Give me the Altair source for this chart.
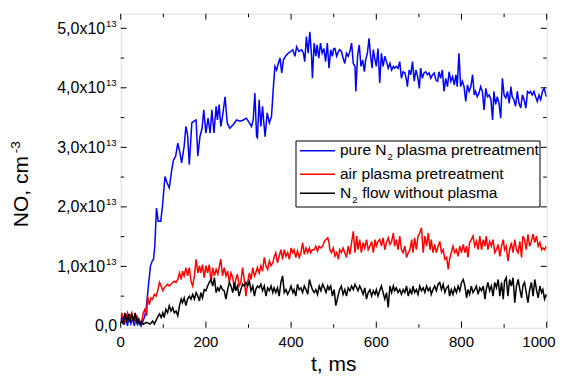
import altair as alt
import pandas as pd

# ---------------- data (NO density in units of 1e13 cm^-3, time in ms) ----------------
blue_t = [0, 4, 8, 12, 16, 20, 24, 28, 32, 36,
          40, 44, 48, 52, 56, 60, 65, 70, 74, 77,
          80, 84, 88, 94, 98, 104, 109, 114, 120, 124,
          129, 134, 139, 143, 149, 153, 157, 161, 167, 172,
          177, 181, 186, 191, 195, 200, 205, 210, 214, 219,
          224, 227, 231, 235, 239, 245, 250, 256, 264, 272,
          280, 288, 295, 302, 307, 311, 315, 319, 321, 325,
          329, 333, 336, 339, 344, 349, 354, 358, 362, 366,
          370, 374, 378, 382, 387, 393, 399, 404, 409, 413,
          418, 425, 429, 432, 436, 440, 444, 448, 450, 454,
          458, 461, 465, 469, 473, 477, 481, 485, 489, 493,
          497, 500, 503, 507, 511, 514, 518, 522, 526, 530,
          534, 538, 542, 546, 550, 552, 556, 560, 564, 568,
          572, 575, 579, 583, 586, 590, 593, 597, 600, 604,
          608, 612, 616, 620, 624, 628, 632, 636, 640, 643,
          647, 651, 655, 659, 663, 667, 671, 673, 677, 681,
          685, 689, 693, 697, 701, 704, 708, 712, 716, 720,
          724, 728, 732, 736, 740, 744, 747, 751, 755, 759,
          763, 767, 771, 775, 779, 783, 787, 790, 794, 798,
          802, 806, 810, 814, 818, 822, 826, 830, 833, 837,
          841, 845, 849, 853, 857, 861, 865, 869, 873, 876,
          880, 884, 888, 892, 896, 900, 904, 908, 912, 916,
          919, 923, 927, 931, 935, 939, 943, 947, 951, 955,
          959, 962, 966, 970, 974, 978, 982, 986, 990, 994,
          998, 1000]
blue_v = [0.05, 0.18, 0.02, 0.15, 0.00, 0.20, 0.04, 0.12, 0.00, 0.17,
          0.03, 0.10, 0.00, 0.08, 0.15, 0.30, 0.67, 1.01, 1.09, 1.12,
          1.34, 1.98, 1.76, 1.76, 2.01, 2.51, 2.40, 2.32, 2.63, 2.79,
          2.85, 3.07, 2.91, 2.74, 3.02, 3.35, 3.21, 2.71, 3.41, 3.44,
          3.46, 2.85, 3.18, 3.32, 3.63, 3.24, 3.49, 3.24, 3.63, 3.24,
          3.69, 3.46, 3.72, 3.35, 3.52, 3.85, 3.41, 3.32, 3.38, 3.46,
          3.44, 3.46, 3.49, 3.41, 3.35, 3.46, 3.91, 3.18, 3.16, 3.80,
          3.35, 3.69, 3.41, 3.18, 3.58, 3.41, 3.52, 3.97, 4.36, 4.30,
          4.41, 4.50, 4.25, 4.47, 4.53, 4.58, 4.61, 4.64, 4.53, 4.69,
          4.61, 4.64, 4.58, 4.44, 4.86, 4.58, 4.94, 4.53, 4.16, 4.75,
          4.53, 4.72, 4.50, 4.75, 4.58, 4.66, 4.44, 4.75, 4.33, 4.64,
          4.53, 4.66, 4.66, 4.53, 4.61, 4.64, 4.61, 4.50, 4.41, 4.58,
          4.53, 4.61, 4.75, 4.41, 4.36, 3.94, 4.53, 4.72, 4.36, 4.47,
          4.27, 4.47, 4.58, 4.83, 4.58, 4.33, 4.64, 4.47, 4.36, 4.66,
          4.08, 4.58, 4.36, 4.53, 4.44, 4.33, 4.41, 4.30, 4.36, 4.33,
          4.36, 4.33, 4.44, 4.16, 4.27, 4.25, 4.13, 4.02, 4.30, 4.22,
          4.44, 4.11, 4.30, 4.19, 3.99, 4.33, 4.16, 4.25, 4.27, 4.22,
          4.25, 4.16, 4.22, 4.25, 4.13, 4.11, 4.27, 4.16, 4.30, 3.94,
          4.16, 4.02, 4.27, 4.11, 4.19, 4.05, 4.22, 4.02, 4.58, 4.02,
          4.11, 4.02, 3.77, 4.05, 3.94, 4.02, 4.22, 3.88, 3.94, 3.85,
          3.91, 4.02, 3.94, 3.63, 3.99, 3.85, 3.88, 3.80, 3.46, 3.94,
          3.72, 3.85, 3.74, 3.49, 4.16, 3.88, 3.83, 3.94, 3.74, 4.02,
          3.85, 3.80, 3.69, 3.94, 3.74, 3.66, 3.88, 3.80, 3.66, 3.94,
          3.91, 3.94, 3.88, 3.94, 3.85, 3.77, 3.88, 3.80, 3.94, 3.99,
          3.88, 3.85]

red_t = [0, 2, 6, 10, 16, 20, 26, 31, 38, 44,
         49, 53, 57, 61, 63, 67, 71, 75, 79, 83,
         87, 91, 95, 99, 102, 106, 110, 114, 118, 122,
         126, 130, 134, 138, 142, 145, 149, 153, 157, 161,
         165, 169, 173, 177, 181, 185, 188, 192, 196, 200,
         204, 208, 212, 216, 220, 224, 228, 231, 235, 239,
         243, 247, 251, 255, 259, 263, 267, 270, 274, 278,
         282, 286, 290, 294, 298, 302, 306, 310, 314, 317,
         321, 325, 329, 333, 337, 341, 345, 349, 353, 357,
         360, 364, 368, 372, 376, 380, 384, 388, 392, 396,
         400, 404, 407, 411, 415, 419, 423, 427, 431, 435,
         439, 443, 446, 450, 454, 458, 462, 466, 470, 474,
         478, 482, 486, 489, 491, 495, 499, 503, 507, 511,
         514, 518, 522, 526, 530, 534, 538, 542, 546, 550,
         554, 557, 561, 565, 569, 573, 577, 581, 585, 589,
         593, 597, 600, 604, 608, 612, 616, 620, 624, 628,
         632, 636, 640, 643, 647, 651, 655, 659, 663, 667,
         671, 675, 679, 683, 686, 690, 694, 698, 702, 706,
         710, 714, 718, 722, 726, 729, 733, 737, 741, 745,
         749, 753, 757, 761, 765, 769, 772, 776, 780, 784,
         788, 792, 796, 800, 804, 808, 812, 815, 819, 823,
         827, 831, 835, 839, 843, 847, 851, 855, 858, 862,
         866, 870, 874, 878, 882, 886, 890, 894, 898, 901,
         905, 909, 913, 917, 921, 925, 929, 933, 937, 941,
         944, 948, 952, 956, 960, 964, 968, 972, 976, 980,
         984, 988, 991, 995, 999]
red_v = [0.10, 0.22, 0.14, 0.06, 0.22, 0.11, 0.22, 0.08, 0.17, 0.08,
         0.06, 0.22, 0.28, 0.17, 0.50, 0.36, 0.47, 0.45, 0.53, 0.50,
         0.59, 0.73, 0.67, 0.59, 0.64, 0.67, 0.70, 0.67, 0.70, 0.73,
         0.75, 0.73, 0.78, 0.89, 0.78, 0.92, 0.84, 0.98, 0.84, 0.98,
         0.75, 0.67, 0.84, 1.12, 0.89, 1.01, 0.89, 1.03, 0.81, 1.01,
         0.89, 1.03, 0.73, 0.98, 0.84, 0.95, 0.87, 0.98, 1.12, 0.84,
         0.98, 0.84, 0.92, 0.73, 0.89, 0.81, 0.61, 0.78, 0.87, 0.67,
         0.73, 0.98, 0.78, 0.50, 0.73, 0.89, 0.78, 0.98, 0.84, 0.89,
         0.98, 0.89, 1.01, 0.92, 1.15, 1.01, 0.95, 1.09, 1.01, 1.06,
         1.15, 1.23, 1.06, 1.17, 1.28, 1.12, 1.28, 1.17, 1.23, 1.12,
         1.31, 1.23, 1.28, 1.15, 1.26, 1.15, 1.23, 1.40, 1.20, 1.31,
         1.23, 1.31, 1.23, 1.28, 1.28, 1.34, 1.26, 1.34, 1.31, 1.34,
         1.42, 1.45, 1.48, 1.40, 1.28, 1.23, 1.31, 1.17, 1.23, 1.12,
         1.28, 1.23, 1.31, 1.23, 1.15, 1.34, 1.20, 1.40, 1.59, 1.23,
         1.51, 1.28, 1.45, 1.23, 1.40, 1.31, 1.45, 1.28, 1.34, 1.42,
         1.23, 1.45, 1.34, 1.42, 1.45, 1.34, 1.48, 1.28, 1.40, 1.48,
         1.37, 1.42, 1.56, 1.34, 1.45, 1.28, 1.51, 1.28, 1.23, 1.34,
         1.15, 1.23, 1.28, 1.45, 1.23, 1.48, 1.28, 1.51, 1.56, 1.65,
         1.23, 1.51, 1.34, 1.56, 1.28, 1.45, 1.23, 1.37, 1.23, 1.34,
         1.42, 1.23, 1.28, 1.12, 1.15, 0.95, 1.12, 1.23, 1.34, 1.23,
         1.28, 1.17, 1.34, 1.23, 1.37, 1.23, 1.34, 1.15, 1.40, 1.45,
         1.51, 1.34, 1.42, 1.28, 1.51, 1.28, 1.45, 1.34, 1.51, 1.28,
         1.42, 1.34, 1.45, 1.23, 1.28, 1.37, 1.17, 1.34, 1.45, 1.28,
         1.34, 1.09, 1.28, 1.40, 1.23, 1.45, 1.28, 1.23, 1.42, 1.15,
         1.51, 1.45, 1.28, 1.54, 1.34, 1.42, 1.54, 1.40, 1.51, 1.34,
         1.40, 1.28, 1.31, 1.28, 1.34]

black_t = [0, 2, 6, 10, 14, 18, 22, 26, 30, 34,
           38, 41, 45, 49, 53, 61, 69, 75, 79, 84,
           91, 95, 99, 102, 106, 110, 114, 118, 122, 126,
           130, 134, 138, 142, 145, 149, 153, 157, 161, 165,
           169, 173, 177, 181, 185, 188, 192, 196, 200, 204,
           208, 212, 216, 220, 224, 228, 231, 235, 239, 243,
           247, 251, 255, 259, 263, 267, 270, 274, 278, 282,
           286, 290, 294, 298, 302, 306, 310, 314, 317, 321,
           325, 329, 333, 337, 341, 345, 349, 353, 357, 360,
           364, 368, 372, 376, 380, 384, 388, 392, 396, 400,
           404, 407, 411, 415, 419, 423, 427, 431, 435, 439,
           443, 446, 450, 454, 458, 462, 466, 470, 474, 478,
           482, 486, 489, 493, 497, 501, 505, 511, 514, 518,
           522, 526, 530, 534, 538, 542, 546, 550, 554, 557,
           561, 565, 569, 573, 577, 581, 585, 589, 593, 597,
           600, 604, 608, 612, 616, 620, 624, 628, 632, 636,
           640, 643, 647, 651, 655, 659, 663, 667, 671, 675,
           679, 683, 686, 690, 694, 698, 702, 706, 710, 714,
           718, 722, 726, 729, 733, 737, 741, 745, 749, 753,
           757, 761, 765, 769, 772, 776, 780, 784, 788, 792,
           796, 800, 804, 808, 812, 815, 819, 823, 827, 831,
           835, 839, 843, 847, 851, 855, 858, 862, 866, 870,
           874, 878, 882, 886, 890, 894, 898, 901, 905, 909,
           913, 917, 921, 925, 929, 933, 937, 941, 944, 948,
           952, 956, 960, 964, 968, 972, 976, 980, 984, 988,
           991, 995, 999]
black_v = [0.05, 0.11, 0.03, 0.22, 0.08, 0.17, 0.06, 0.20, 0.08, 0.22,
           0.06, 0.11, 0.03, 0.08, 0.03, 0.06, 0.03, 0.08, 0.03, 0.11,
           0.20, 0.14, 0.22, 0.14, 0.28, 0.22, 0.34, 0.25, 0.31, 0.22,
           0.25, 0.17, 0.34, 0.45, 0.39, 0.47, 0.34, 0.45, 0.50, 0.45,
           0.53, 0.45, 0.56, 0.50, 0.42, 0.56, 0.47, 0.61, 0.59, 0.67,
           0.73, 0.78, 0.67, 0.81, 0.56, 0.64, 0.59, 0.67, 0.61, 0.59,
           0.45, 0.61, 0.73, 0.67, 0.56, 0.73, 0.59, 0.67, 0.50, 0.61,
           0.70, 0.67, 0.73, 0.67, 0.75, 0.59, 0.67, 0.50, 0.61, 0.67,
           0.64, 0.70, 0.59, 0.67, 0.50, 0.64, 0.59, 0.67, 0.56, 0.64,
           0.56, 0.64, 0.50, 0.73, 0.84, 0.56, 0.61, 0.53, 0.59, 0.67,
           0.56, 0.61, 0.50, 0.70, 0.61, 0.64, 0.56, 0.67, 0.61, 0.53,
           0.78, 0.70, 0.61, 0.56, 0.61, 0.53, 0.67, 0.59, 0.70, 0.64,
           0.56, 0.67, 0.61, 0.67, 0.50, 0.61, 0.34, 0.53, 0.61, 0.67,
           0.53, 0.61, 0.50, 0.64, 0.59, 0.67, 0.61, 0.70, 0.64, 0.59,
           0.67, 0.61, 0.53, 0.64, 0.45, 0.56, 0.61, 0.50, 0.59, 0.53,
           0.61, 0.50, 0.59, 0.67, 0.56, 0.45, 0.56, 0.31, 0.67, 0.56,
           0.67, 0.59, 0.64, 0.56, 0.61, 0.53, 0.61, 0.56, 0.67, 0.50,
           0.61, 0.53, 0.67, 0.56, 0.61, 0.53, 0.67, 0.59, 0.64, 0.56,
           0.67, 0.59, 0.64, 0.53, 0.61, 0.67, 0.59, 0.70, 0.73, 0.61,
           0.70, 0.56, 0.64, 0.67, 0.50, 0.61, 0.53, 0.64, 0.56, 0.67,
           0.59, 0.73, 0.78, 0.67, 0.47, 0.61, 0.53, 0.67, 0.56, 0.61,
           0.67, 0.53, 0.64, 0.59, 0.67, 0.45, 0.61, 0.73, 0.59, 0.67,
           0.50, 0.73, 0.64, 0.78, 0.50, 0.73, 0.45, 0.75, 0.81, 0.50,
           0.78, 0.67, 0.81, 0.39, 0.67, 0.78, 0.61, 0.47, 0.67, 0.73,
           0.56, 0.39, 0.61, 0.73, 0.50, 0.78, 0.61, 0.47, 0.67, 0.56,
           0.61, 0.45, 0.53]

assert len(blue_t) == len(blue_v)
assert len(red_t) == len(red_v)
assert len(black_t) == len(black_v)

# axis ticks / labels
x_major = [0, 200, 400, 600, 800]
x_last = [1000]
x_minor = [100, 300, 500, 700, 900]
x_labels = ["0", "200", "400", "600", "800"]
x_last_label = ["1000"]
y_major = [1, 2, 3, 4, 5]
y_minor = [0.5, 1.5, 2.5, 3.5, 4.5]
y_labels = ["1,0x10", "2,0x10", "3,0x10", "4,0x10", "5,0x10"]
y_sup = ["13", "13", "13", "13", "13"]

# ---------------- chart ----------------
W, H = 426, 314
FONT = "Liberation Sans"
xs = alt.Scale(domain=[0, 1000], nice=False, zero=False)
ys = alt.Scale(domain=[-0.03, 5.245], nice=False, zero=False)


def series(ts, vs, color):
    df = pd.DataFrame({"t": ts, "v": vs})
    return alt.Chart(df).mark_line(color=color, strokeWidth=1.5, clip=True).encode(
        x=alt.X("t:Q", scale=xs, axis=None),
        y=alt.Y("v:Q", scale=ys, axis=None),
    )


one = pd.DataFrame({"a": [0]})


def txt(s, x, y, size=15.5, align="left", baseline="alphabetic", angle=0):
    return alt.Chart(one).mark_text(
        text=s, fontSize=size, align=align, baseline=baseline, angle=angle,
        font=FONT, color="black"
    ).encode(x=alt.value(x), y=alt.value(y))


def xticks(vals, y0, y1):
    return alt.Chart(pd.DataFrame({"t": vals})).mark_rule(color="black", strokeWidth=1).encode(
        x=alt.X("t:Q", scale=xs, axis=None), y=alt.value(y0), y2=alt.value(y1))


def yticks(vals, x0, x1):
    return alt.Chart(pd.DataFrame({"v": vals})).mark_rule(color="black", strokeWidth=1).encode(
        y=alt.Y("v:Q", scale=ys, axis=None), x=alt.value(x0), x2=alt.value(x1))


all_x_major = x_major + x_last
layers = [
    series(blue_t, blue_v, "#0000ff"),
    series(red_t, red_v, "#ff0000"),
    series(black_t, black_v, "#000000"),
    # inward ticks on all sides
    xticks(all_x_major, H, H - 6), xticks(x_minor, H, H - 3.5),
    xticks(all_x_major, 0, 6), xticks(x_minor, 0, 3.5),
    yticks(y_major, 0, 6), yticks(y_minor, 0, 3.5),
    yticks(y_major, W, W - 6), yticks(y_minor, W, W - 3.5),
]

# x tick labels
layers.append(
    alt.Chart(pd.DataFrame({"t": x_major, "lab": x_labels})).mark_text(
        fontSize=15, align="center", baseline="alphabetic", font=FONT, color="black"
    ).encode(x=alt.X("t:Q", scale=xs, axis=None), y=alt.value(H + 19), text="lab:N")
)
# last label kept inside the page edge
layers.append(
    alt.Chart(pd.DataFrame({"t": x_last, "lab": x_last_label})).mark_text(
        fontSize=15, align="right", baseline="alphabetic", dx=9, font=FONT, color="black"
    ).encode(x=alt.X("t:Q", scale=xs, axis=None), y=alt.value(H + 19), text="lab:N")
)
# y tick labels with superscript exponent
ylab_df = pd.DataFrame({"v": y_major, "lab": y_labels, "sup": y_sup})
layers.append(
    alt.Chart(ylab_df).mark_text(
        fontSize=16, align="right", baseline="alphabetic", dx=-15.5, dy=5.5, font=FONT, color="black"
    ).encode(x=alt.value(0), y=alt.Y("v:Q", scale=ys, axis=None), text="lab:N")
)
layers.append(
    alt.Chart(ylab_df).mark_text(
        fontSize=9.5, align="left", baseline="alphabetic", dx=-14.7, dy=-1.4, font=FONT, color="black"
    ).encode(x=alt.value(0), y=alt.Y("v:Q", scale=ys, axis=None), text="sup:N")
)
layers.append(
    alt.Chart(pd.DataFrame({"v": [0], "lab": ["0,0"]})).mark_text(
        fontSize=16, align="right", baseline="alphabetic", dx=-3.5, dy=5.5, font=FONT, color="black"
    ).encode(x=alt.value(0), y=alt.Y("v:Q", scale=ys, axis=None), text="lab:N")
)

# axis titles
layers.append(txt("t, ms", W / 2, 357.5, size=21, align="center"))
layers.append(txt("NO, cm", -99, 178, size=21, align="center", baseline="middle", angle=270))
layers.append(txt("-3", -105, 133.5, size=13.5, align="center", baseline="middle", angle=270))

# legend box
layers.append(
    alt.Chart(one).mark_rect(fill="white", stroke="black", strokeWidth=1).encode(
        x=alt.value(175.3), x2=alt.value(419.3), y=alt.value(127.3), y2=alt.value(193.3))
)
for yv, col in [(137, "#0000ff"), (160.6, "#ff0000"), (179.6, "#000000")]:
    layers.append(
        alt.Chart(one).mark_rule(color=col, strokeWidth=1.5).encode(
            x=alt.value(179.3), x2=alt.value(214.3), y=alt.value(yv))
    )
layers += [
    txt("pure N", 219.3, 141.6),
    txt("2", 266.8, 146.3, size=9.5),
    txt("plasma pretreatment", 276, 141.6),
    txt("air plasma pretreatment", 219.3, 165.6),
    txt("N", 219.3, 184.6),
    txt("2", 231.5, 189.3, size=9.5),
    txt("flow without plasma", 241.5, 184.6),
]

chart = alt.layer(*layers).properties(
    width=W, height=H,
    padding={"left": 112.7, "top": 5.7, "right": 9.8, "bottom": 46.8},
    autosize=alt.AutoSizeParams(type="none"),
).configure_view(stroke="black", strokeWidth=1.5).configure(font=FONT, background="white")

chart.save("out.html", embed_options={"renderer": "svg", "actions": False})
